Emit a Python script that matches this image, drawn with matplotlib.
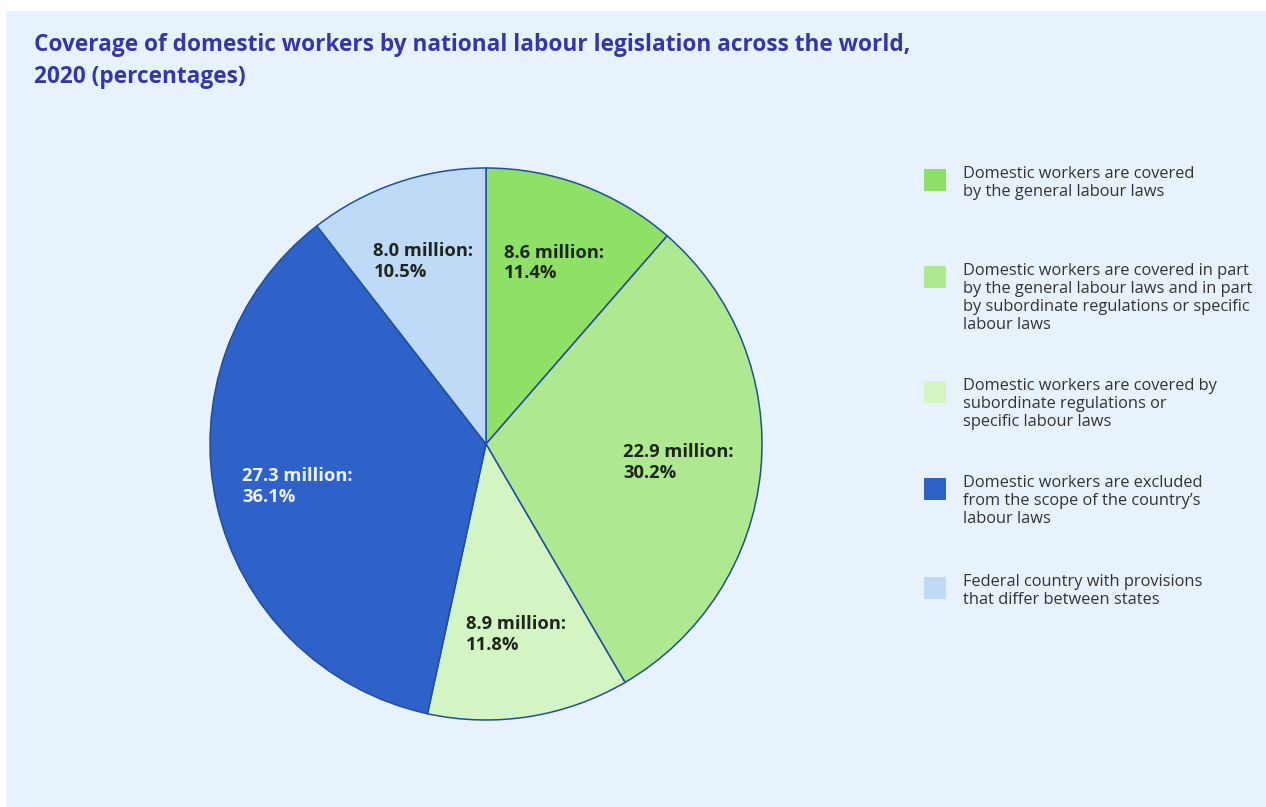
import matplotlib.pyplot as plt
from matplotlib.patches import Rectangle
import numpy as np

plt.rcParams["font.family"] = ["Open Sans", "DejaVu Sans"]

# Coverage categories, worker counts (millions) and shares (%)
categories = [
    "Domestic workers are covered\nby the general labour laws",
    "Domestic workers are covered in part\nby the general labour laws and in part\nby subordinate regulations or specific\nlabour laws",
    "Domestic workers are covered by\nsubordinate regulations or\nspecific labour laws",
    "Domestic workers are excluded\nfrom the scope of the country\u2019s\nlabour laws",
    "Federal country with provisions\nthat differ between states",
]
millions = [8.6, 22.9, 8.9, 27.3, 8.0]
shares = [11.4, 30.2, 11.8, 36.1, 10.5]

colors = ["#8fe066", "#aee890", "#d3f4c3", "#2f62c9", "#bfdaf7"]
label_colors = ["#1e261c", "#1e261c", "#1e261c", "#eef3ff", "#1e261c"]
panel_color = "#e8f2fc"
edge_color = "#1d4f9e"

W, H = 1266, 807
fig = plt.figure(figsize=(W / 100, H / 100), dpi=100, facecolor="white")

# Light blue panel behind everything
fig.add_artist(Rectangle((6 / W, 0), 1 - 6 / W, 1 - 11 / H, transform=fig.transFigure,
                         facecolor=panel_color, edgecolor="none", zorder=0))

fig.text(34 / W, 1 - 33 / H,
         "Coverage of domestic workers by national labour legislation across the world,\n2020 (percentages)",
         ha="left", va="top", fontsize=16.3, fontweight="bold", color="#3636a8", linespacing=1.42)

# Pie axes sized in pixels so the circle lands where it should
cx, cy, r = 486, 444, 276
ax = fig.add_axes([(cx - r) / W, (H - cy - r) / H, 2 * r / W, 2 * r / H])
ax.set_aspect("equal")
ax.axis("off")

wedges, _ = ax.pie(shares, colors=colors, startangle=90, counterclock=False, radius=1,
                   wedgeprops=dict(edgecolor=edge_color, linewidth=1.1))
ax.set_xlim(-1, 1)
ax.set_ylim(-1, 1)

for w, m, s, c in zip(wedges, millions, shares, label_colors):
    mid = np.deg2rad((w.theta1 + w.theta2) / 2)
    x, y = 0.7 * np.cos(mid), 0.7 * np.sin(mid)
    ax.text(x, y, f"{m:.1f} million:\n{s:.1f}%", ha="center", va="center", multialignment="left",
            fontsize=13.2, fontweight="bold", color=c, linespacing=1.2)

# Legend drawn by hand: square swatch beside each wrapped label
legend_tops = [169, 266, 381, 478, 577]
for top, lab, col in zip(legend_tops, categories, colors):
    fig.add_artist(Rectangle((924 / W, 1 - (top + 22) / H), 22 / W, 22 / H, transform=fig.transFigure,
                             facecolor=col, edgecolor="none"))
    fig.text(963 / W, 1 - (top - 3) / H, lab, ha="left", va="top", fontsize=11.8, color="#333333",
             linespacing=1.18)

fig.savefig("out.png", dpi=100, facecolor=fig.get_facecolor())
